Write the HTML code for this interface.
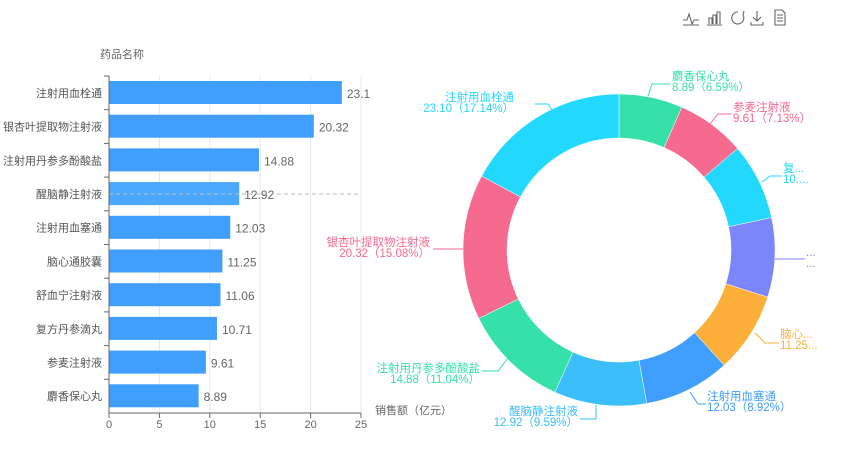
<!DOCTYPE html><html><head><meta charset="utf-8"><style>
body{margin:0;background:#fff;width:856px;height:444px;overflow:hidden}
svg text{font-family:"Liberation Sans","Noto Sans CJK SC",sans-serif}
</style></head><body>
<svg id="s" width="856" height="444" xmlns="http://www.w3.org/2000/svg">
<g stroke="#666" fill="none" stroke-width="1.1">
<path d="M683 20h4l2-6 3 10 2-4h5M683 25h16"/>
<path d="M707 25h15M709 24v-6h3v6M713 24v-9h3v9M717 24v-12h3v12"/>
<path d="M738 12a6 6 0 1 0 5 3M743 15l1-4"/>
<path d="M757 11v10M753 17l4 4 4-4M751 22v3h12v-3"/>
<path d="M775 10h7l3 3v12h-10zM777 15h6M777 18h6M777 21h6"/>
</g>
<g id="bar"></g><g id="pie"></g>
</svg>
<script>
(function(){
const ns="http://www.w3.org/2000/svg";
function el(p,t,a,txt){const e=document.createElementNS(ns,t);for(const k in a)e.setAttribute(k,a[k]);if(txt!=null)e.textContent=txt;p.appendChild(e);return e;}
const bar=document.getElementById('bar');
const names=["注射用血栓通","银杏叶提取物注射液","注射用丹参多酚酸盐","醒脑静注射液","注射用血塞通","脑心通胶囊","舒血宁注射液","复方丹参滴丸","参麦注射液","麝香保心丸"];
const vals=[23.1,20.32,14.88,12.92,12.03,11.25,11.06,10.71,9.61,8.89];
const x0=109,sc=(361-109)/25,yTop=76,bot=413,bh=(bot-yTop)/10;
for(let i=1;i<=5;i++)el(bar,'line',{x1:x0+i*5*sc,x2:x0+i*5*sc,y1:yTop,y2:bot,stroke:'#e4e9f2'});
el(bar,'text',{x:100,y:58,'font-size':11,fill:'#666'},"药品名称");
vals.forEach((v,i)=>{const y=yTop+i*bh;
el(bar,'rect',{x:x0,y:y+5,width:v*sc,height:23,fill:i==3?'#4aa8ff':'#409eff'});
el(bar,'text',{x:x0+v*sc+5,y:y+bh/2+5,'font-size':12,fill:'#666'},String(v));
el(bar,'text',{x:102,y:y+bh/2+4,'font-size':11,fill:'#555','text-anchor':'end'},names[i]);
el(bar,'line',{x1:x0-5,x2:x0,y1:y,y2:y,stroke:'#666'});
});
el(bar,'line',{x1:x0,x2:361,y1:yTop+3.5*bh,y2:yTop+3.5*bh,stroke:'#bbb','stroke-dasharray':'4,3'});
el(bar,'line',{x1:x0,x2:x0,y1:yTop,y2:bot,stroke:'#666'});
el(bar,'line',{x1:x0,x2:361,y1:bot,y2:bot,stroke:'#999','stroke-width':1.5});
for(let i=0;i<=5;i++){const x=x0+i*5*sc;el(bar,'line',{x1:x,x2:x,y1:bot,y2:bot+5,stroke:'#666'});el(bar,'text',{x:x,y:bot+15,'font-size':11,fill:'#666','text-anchor':'middle'},String(i*5));}
el(bar,'text',{x:375,y:414,'font-size':11,fill:'#666'},"销售额（亿元）");
const pie=document.getElementById('pie');
const pd=[[8.89,'#36e0a9'],[9.61,'#f76a8f'],[10.71,'#22d8fd'],[11.06,'#7b86fb'],[11.25,'#fcb03a'],[12.03,'#409eff'],[12.92,'#3cbefb'],[14.88,'#36e0a9'],[20.32,'#f76a8f'],[23.10,'#22d8fd']];
const tot=pd.reduce((a,b)=>a+b[0],0),cx=619,cy=250,R=156,r=112;
let a=0;
pd.forEach(([v,c])=>{const b=a+v/tot*2*Math.PI;
const p=(rad,t)=>[cx+rad*Math.sin(t),cy-rad*Math.cos(t)];
const [x1,y1]=p(R,a),[x2,y2]=p(R,b),[x3,y3]=p(r,b),[x4,y4]=p(r,a);const lg=b-a>Math.PI?1:0;
el(pie,'path',{d:`M${x1} ${y1}A${R} ${R} 0 ${lg} 1 ${x2} ${y2}L${x3} ${y3}A${r} ${r} 0 ${lg} 0 ${x4} ${y4}Z`,fill:c,stroke:'#fff','stroke-width':0.5});a=b;});
const L=[
["麝香保心丸","8.89（6.59%）",672,80,'start','#36e0a9',"M648 96l4-12h18"],
["参麦注射液","9.61（7.13%）",733,111,'start','#f76a8f',"M710 124l8-10h13"],
["复...","10....",783,172,'start','#22d8fd',"M762 182l8-6h12"],
["...","...",806,256,'start','#7b86fb',"M775 259h30"],
["脑心...","11.25...",780,338,'start','#fcb03a',"M755 333l10 10h14"],
["注射用血塞通","12.03（8.92%）",707,400,'start','#409eff',"M690 392l8 12h8"],
["醒脑静注射液","12.92（9.59%）",578,415,'end','#3cbefb',"M596 405v14h-16"],
["注射用丹参多酚酸盐","14.88（11.04%）",480,372,'end','#36e0a9',"M508 358l-10 13h-16"],
["银杏叶提取物注射液","20.32（15.08%）",430,246,'end','#f76a8f',"M463 249h-30"],
["注射用血栓通","23.10（17.14%）",514,101,'end','#22d8fd',"M535 104h13l9 13"]];
L.forEach(([n,v,x,y,an,c,d])=>{el(pie,'path',{d:d,stroke:c,fill:'none'});
el(pie,'text',{x:x,y:y,'font-size':11.5,fill:c,'text-anchor':an},n);
el(pie,'text',{x:x,y:y+11,'font-size':11.5,fill:c,'text-anchor':an},v);});
})();
</script>
</body></html>
